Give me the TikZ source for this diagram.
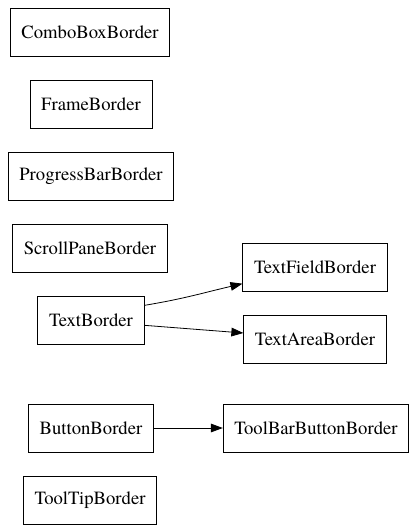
\documentclass[tikz,border=0pt]{standalone}
\usepackage{fontspec}
\setmainfont{TeX Gyre Termes}
\usetikzlibrary{arrows.meta}
\tikzset{
    cls/.style={draw, semithick, inner xsep=8.4pt, minimum height=36pt, font=\rmfamily\fontsize{14}{16}\selectfont},
    ext/.style={-{Triangle[length=9pt,width=6.5pt]}, semithick}
}
\begin{document}
\begin{tikzpicture}[x=0.75pt, y=-0.75pt]
\useasboundingbox (0,0) rectangle (418,531);

\node[cls] (cbb) at (90,32) {ComboBoxBorder};
\node[cls] (fb) at (91,104) {FrameBorder};
\node[cls] (pbb) at (91,176) {ProgressBarBorder};
\node[cls] (spb) at (90,248) {ScrollPaneBorder};
\node[cls] (tb) at (91,320) {TextBorder};
\node[cls] (tfb) at (315,267) {TextFieldBorder};
\node[cls] (tab) at (315,339) {TextAreaBorder};
\node[cls] (bb) at (91,428) {ButtonBorder};
\node[cls] (tbbb) at (316,428) {ToolBarButtonBorder};
\node[cls] (ttb) at (90,500) {ToolTipBorder};

\draw[ext] ([yshift=11pt]tb.east) .. controls +(30pt,5pt) and +(-30pt,-7pt) .. ([yshift=-12.5pt]tfb.west);
\draw[ext] ([yshift=-4pt]tb.east) -- ([yshift=4.5pt]tab.west);
\draw[ext] (bb) -- (tbbb);

\end{tikzpicture}
\end{document}
